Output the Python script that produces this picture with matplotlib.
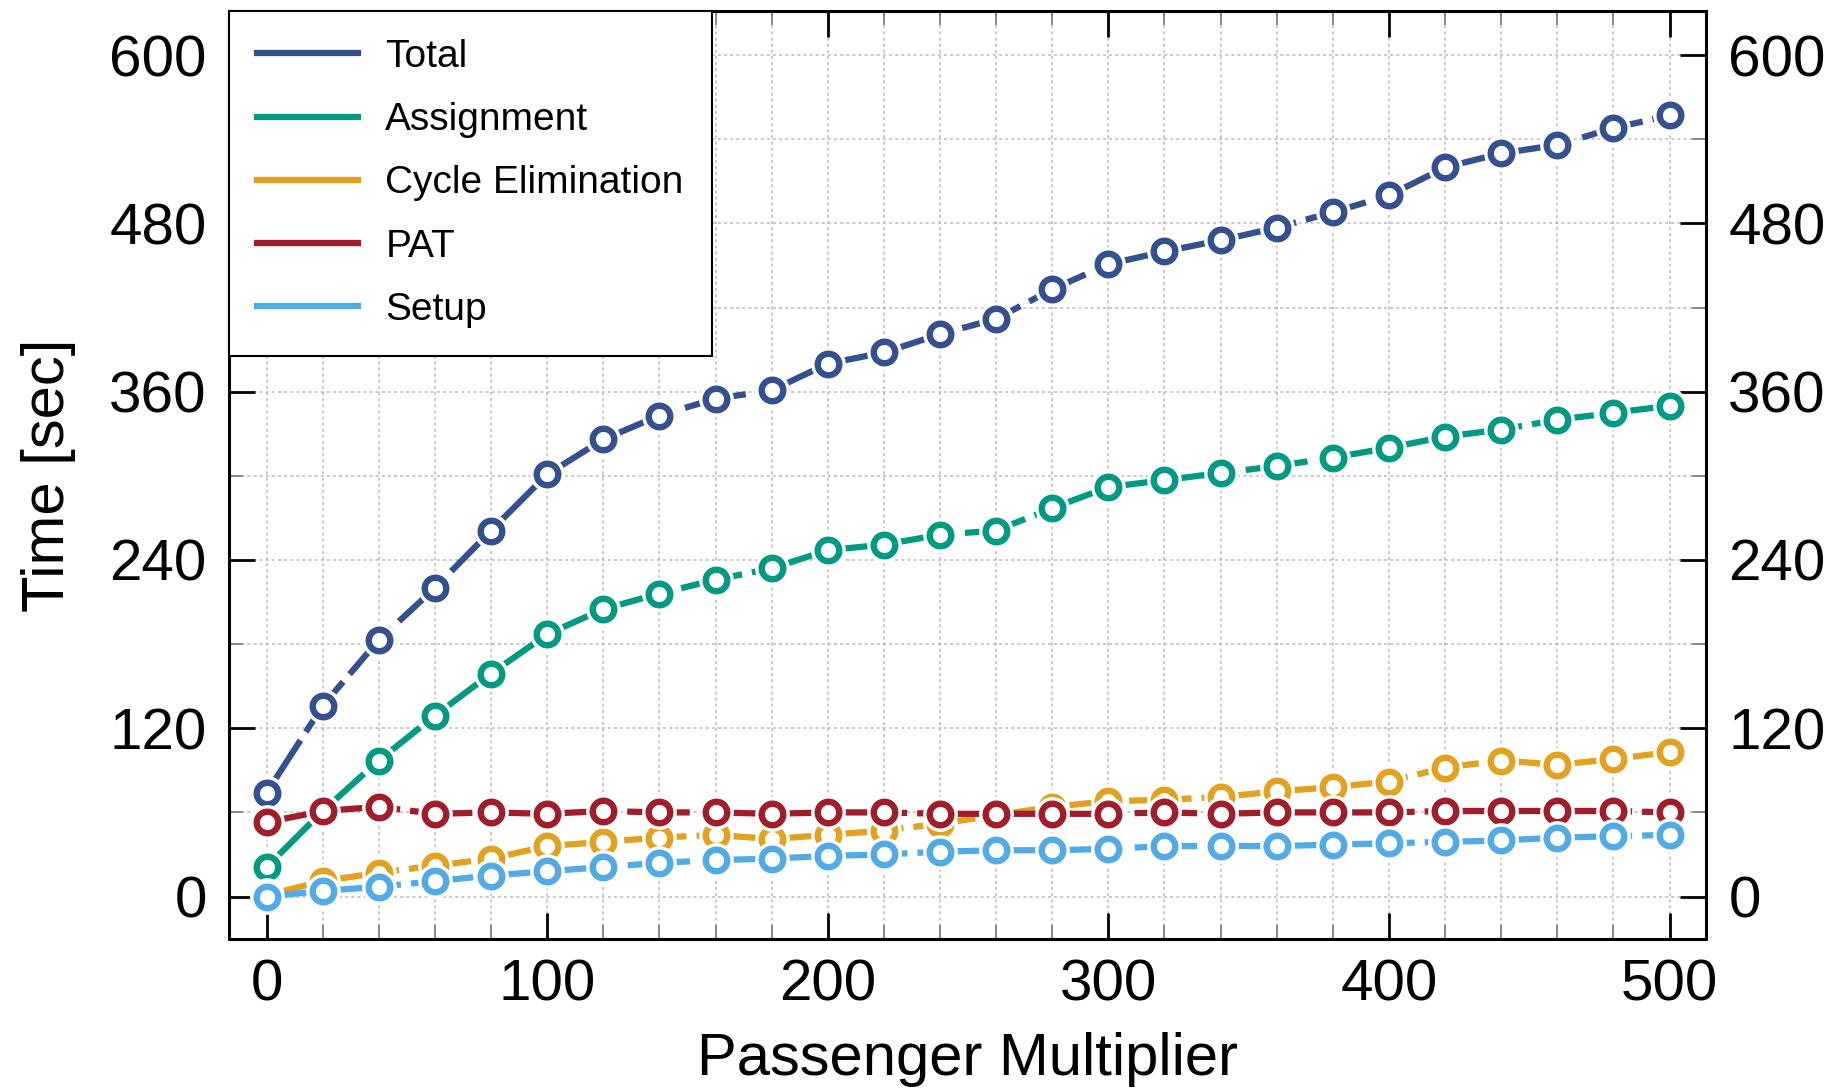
import matplotlib
matplotlib.use("Agg")
import matplotlib.pyplot as plt
from matplotlib.lines import Line2D
from matplotlib.ticker import MultipleLocator

plt.rcParams['font.family'] = ['Liberation Sans', 'DejaVu Sans']

# data
mult = [0, 20, 40, 60, 80, 100, 120, 140, 160, 180, 200, 220, 240,
        260, 280, 300, 320, 340, 360, 380, 400, 420, 440, 460, 480, 500]
total = [74, 136, 183, 220, 261, 301, 326, 343, 355, 361, 380, 388, 401,
         412, 433, 451, 460, 468, 477, 488, 500, 520, 530, 536, 548, 557]
assignment = [21, 61, 97, 129, 159, 187, 205, 216, 226, 234, 247, 251, 258,
              261, 277, 292, 297, 302, 307, 313, 320, 328, 333, 340, 345, 350]
cycle = [1, 11, 17, 22, 27, 36, 39, 42, 44, 41, 44, 47, 52,
         58, 64, 68, 69, 71, 75, 78, 82, 92, 97, 94, 98, 103]
pat = [53, 61, 64, 59, 60, 59, 61, 60, 60, 59, 60, 60, 59,
       59, 59, 59, 60, 59, 60, 60, 60, 61, 61, 61, 61, 60]
setup = [0, 4, 7, 11, 15, 18, 21, 24, 26, 27, 29, 30, 32,
         33, 33, 34, 36, 36, 36, 37, 38, 39, 40, 42, 43, 44]

names = ['Total', 'Assignment', 'Cycle Elimination', 'PAT', 'Setup']
series = [total, assignment, cycle, pat, setup]
colors = ['#34508f', '#009a82', '#e2a11f', '#a11d2a', '#52abe4']

fig = plt.figure(figsize=(18.42, 10.9), dpi=100)
ax = fig.add_axes([0.1243, 0.1385, 0.9262 - 0.1243, 0.9899 - 0.1385])

z = 3
for vals, c in zip(series, colors):
    ax.plot(mult, vals, color=c, lw=4.5, dashes=(10, 1.6), zorder=z)
    ax.plot(mult, vals, 'o', ms=25, mfc='white', mec='white', mew=0, zorder=z + 0.1)
    ax.plot(mult, vals, 'o', ms=15.5, mfc='white', mec=c, mew=4.6, zorder=z + 0.2)
    z += 1

ax.set_xlim(-13.4, 513)
ax.set_ylim(-30.3, 631.5)
ax.xaxis.set_major_locator(MultipleLocator(100))
ax.xaxis.set_minor_locator(MultipleLocator(20))
ax.yaxis.set_major_locator(MultipleLocator(120))
ax.yaxis.set_minor_locator(MultipleLocator(60))

ax.grid(True, which='both', color='#bbbbbb', lw=1.1, linestyle=(0, (2, 2)), zorder=0)
ax.set_axisbelow(True)

ax.tick_params(which='both', direction='in', top=True, right=True,
               labelright=True, labelsize=42, width=2)
ax.tick_params(which='major', length=19)
ax.tick_params(which='minor', length=10, width=1.2, color='#777777')
ax.tick_params(axis='y', pad=16)
ax.tick_params(axis='x', pad=14)
for s in ax.spines.values():
    s.set_linewidth(2.2)

ax.set_xlabel('Passenger Multiplier', fontsize=43, labelpad=14)
ax.set_ylabel('Time [sec]', fontsize=43, labelpad=24)

handles = [Line2D([], [], color=c, lw=4.5) for c in colors]
leg = ax.legend(handles, names, loc='upper left', fontsize=28, frameon=True,
                fancybox=False, borderaxespad=0, borderpad=0.72,
                labelspacing=0.7, handlelength=2.6, handletextpad=0.7)
leg.get_frame().set_edgecolor('black')
leg.get_frame().set_linewidth(1.5)
leg.get_frame().set_alpha(1)
leg.set_zorder(20)

fig.savefig('out.png', dpi=100)
